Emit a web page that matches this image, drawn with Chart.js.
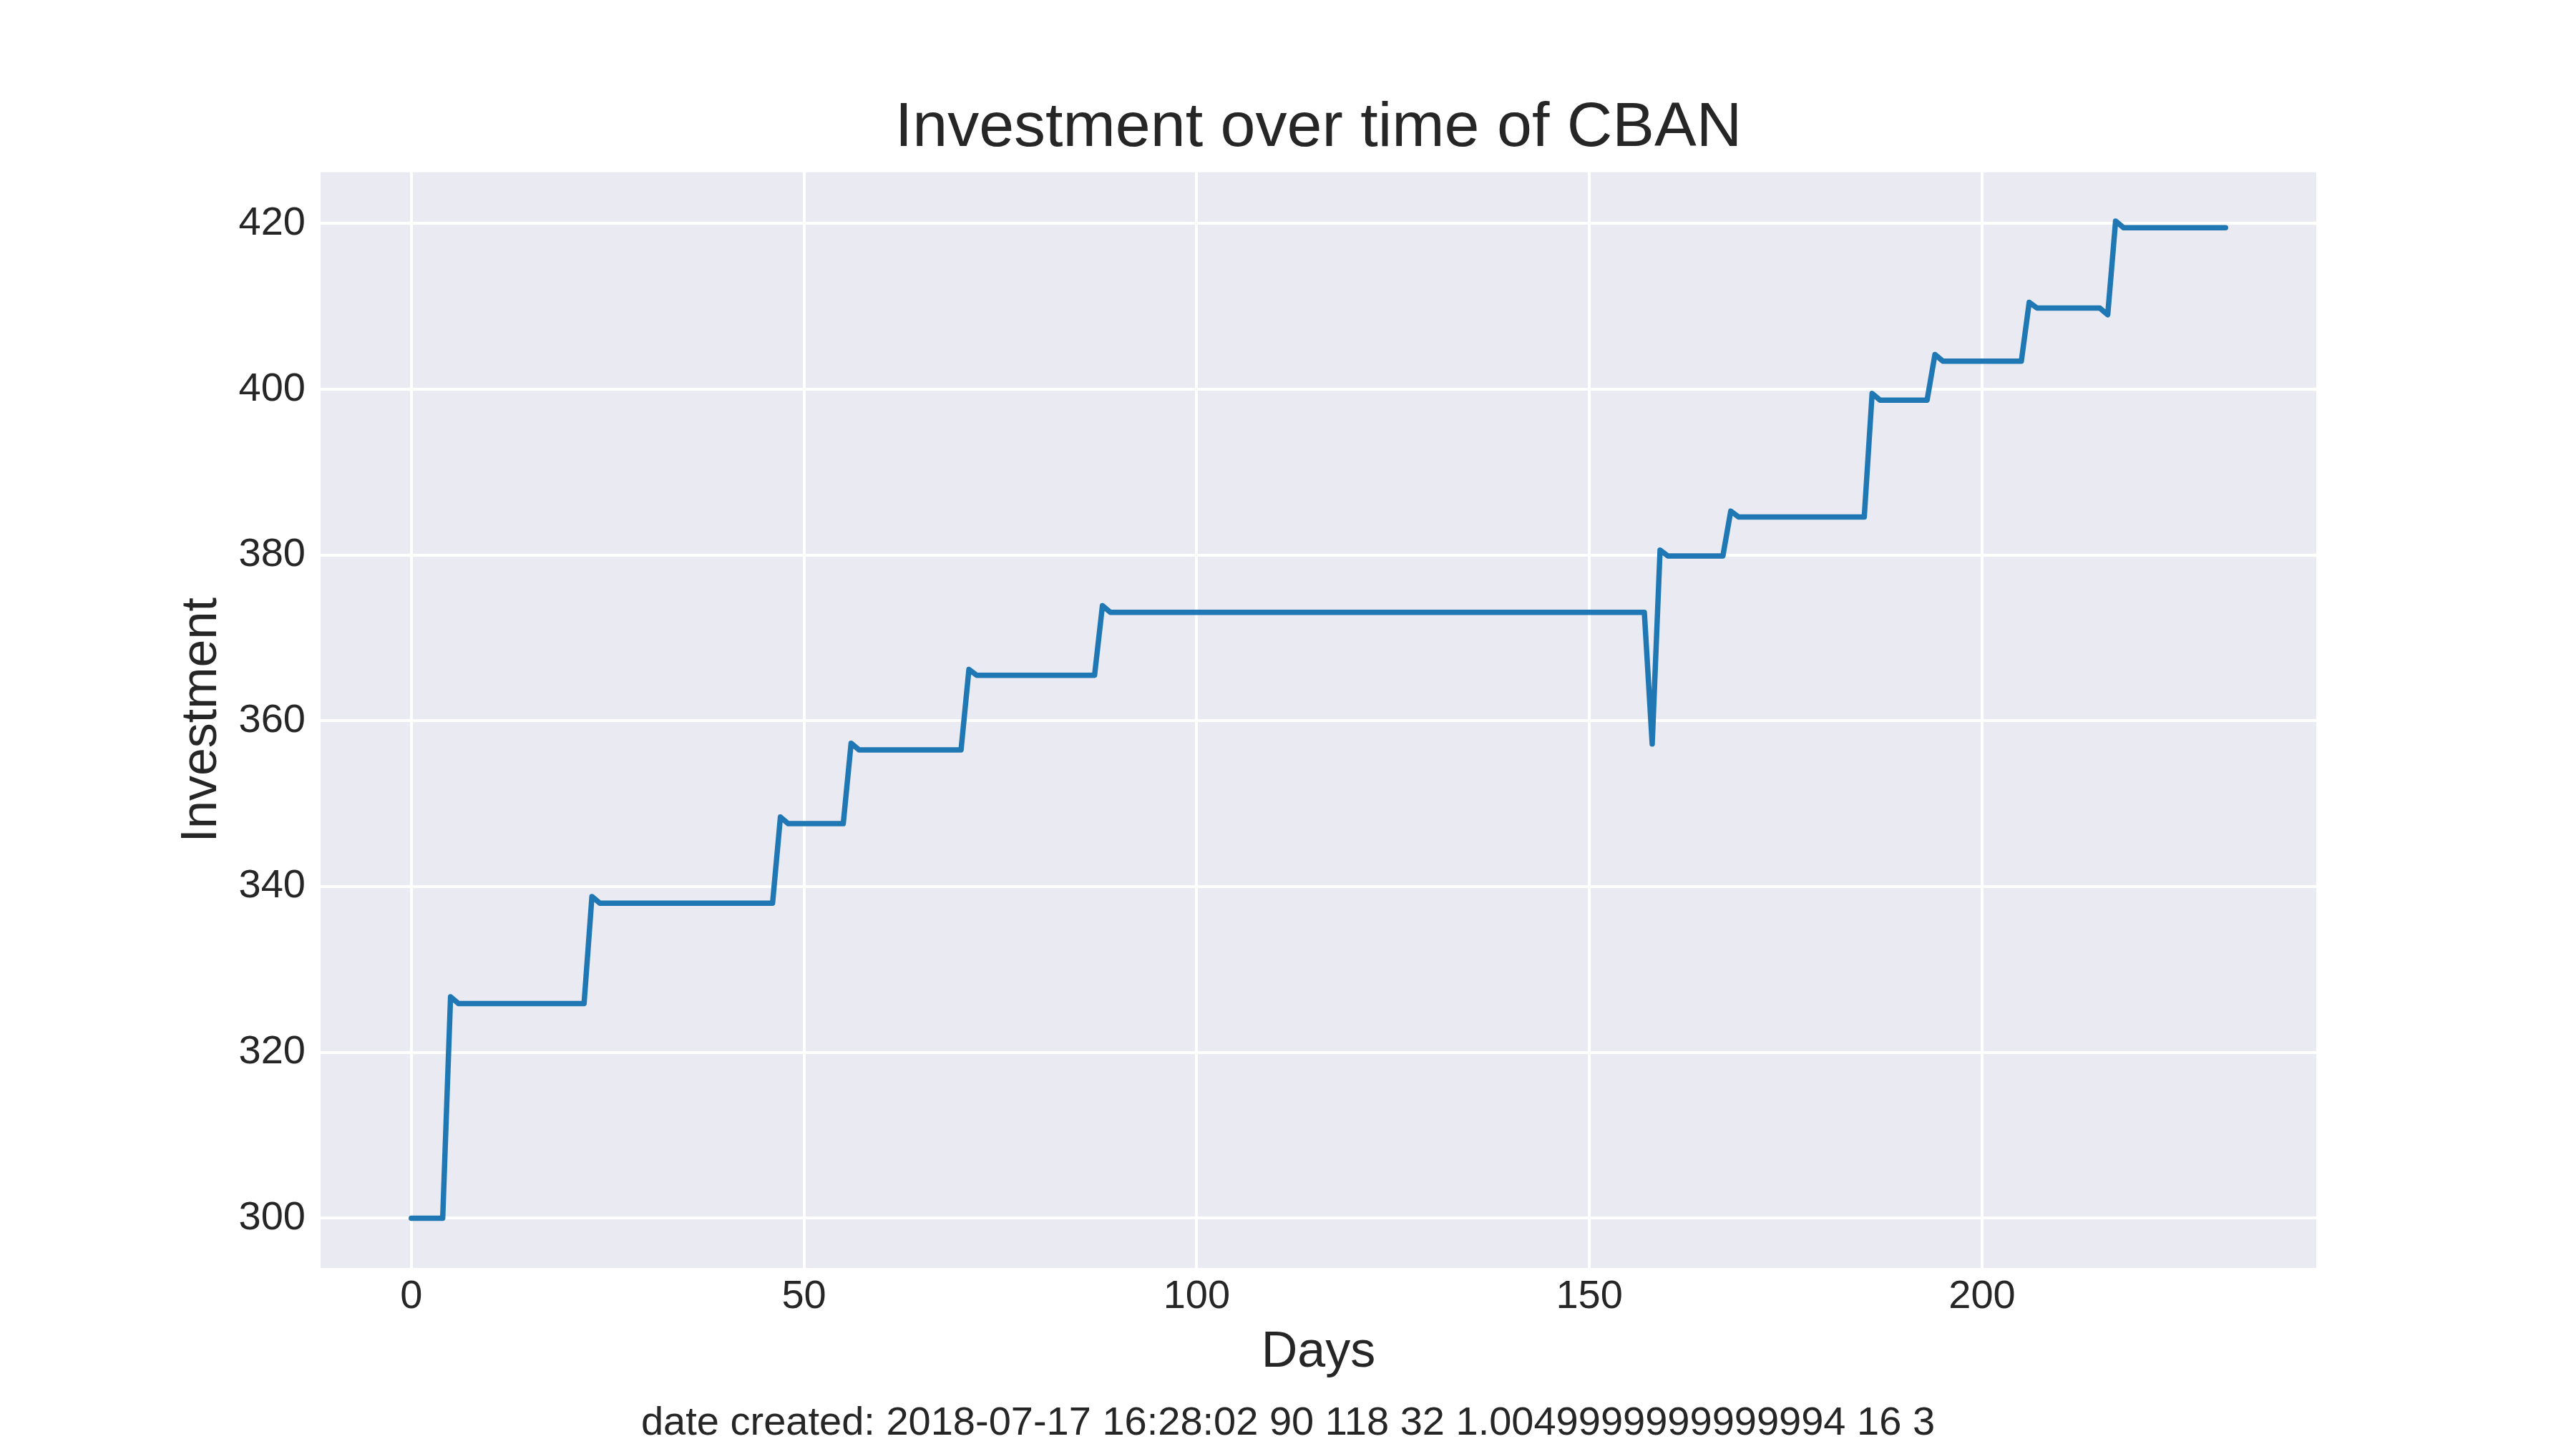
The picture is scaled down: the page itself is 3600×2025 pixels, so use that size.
<!DOCTYPE html>
<html>
<head>
<meta charset="utf-8">
<title>Investment over time of CBAN</title>
<script src="https://cdn.jsdelivr.net/npm/chart.js@4/dist/chart.umd.min.js"></script>
<style>
  html, body { margin: 0; padding: 0; background: #ffffff; }
  #wrap { width: 3600px; height: 2025px; position: relative; }
</style>
</head>
<body>
<div id="wrap"><canvas id="investChart"></canvas></div>
<script>
// days where the curve changes direction (flat stretches are drawn as straight segments)
const days = [0, 4, 5, 6, 22, 23, 24, 46, 47, 48, 55, 56, 57, 70, 71, 72, 87, 88, 89,
    157, 158, 159, 160, 167, 168, 169, 185, 186, 187, 193, 194, 195, 205, 206, 207,
    215, 216, 217, 218, 231];
const investment = [300.0, 300.0, 326.7, 325.9, 325.9, 338.8, 338.0, 338.0, 348.4, 347.6,
    347.6, 357.3, 356.5, 356.5, 366.2, 365.5, 365.5, 373.9, 373.1,
    373.1, 357.2, 380.6, 379.9, 379.9, 385.3, 384.6, 384.6, 399.5, 398.7, 398.7, 404.2, 403.4,
    403.4, 410.5, 409.8, 409.8, 409.0, 420.3, 419.5, 419.5];
const xTicks = [0, 50, 100, 150, 200];
const yTicks = [300, 320, 340, 360, 380, 400, 420];
const footerText = 'date created: 2018-07-17 16:28:02 90 118 32 1.0049999999999994 16 3';

const textColor = '#262626';
const fontFamily = "'Liberation Sans', Arial, sans-serif";

// grey plot background like seaborn darkgrid
const plotBackground = {
    id: 'plotBackground',
    beforeDraw(chart) {
        const a = chart.chartArea;
        const ctx = chart.ctx;
        ctx.save();
        ctx.fillStyle = '#EAEAF2';
        ctx.fillRect(a.left, a.top, a.right - a.left, a.bottom - a.top);
        ctx.restore();
    }
};

// figure-level footer, centred on the whole canvas (not the plot)
const footer = {
    id: 'footer',
    afterDraw(chart) {
        const ctx = chart.ctx;
        ctx.save();
        ctx.fillStyle = textColor;
        ctx.font = '56px ' + fontFamily;
        ctx.textAlign = 'center';
        ctx.textBaseline = 'alphabetic';
        ctx.fillText(footerText, chart.width / 2, 2005);
        ctx.restore();
    }
};

const points = days.map(function (d, i) {
    return { x: d, y: investment[i] };
});

const ctx = document.getElementById('investChart').getContext('2d');
const myChart = new Chart(ctx, {
    type: 'line',
    data: {
        datasets: [{
            label: 'Investment',
            data: points,
            borderColor: '#1f77b4',
            borderWidth: 7.5,
            pointRadius: 0,
            tension: 0,
            borderJoinStyle: 'round',
            borderCapStyle: 'round',
            fill: false,
        }]
    },
    plugins: [plotBackground, footer],
    options: {
        responsive: true,
        maintainAspectRatio: false,
        devicePixelRatio: 1,
        animation: false,
        events: [],
        layout: {
            padding: { left: 200, right: 363, top: 0, bottom: 72 }
        },
        plugins: {
            legend: { display: false },
            tooltip: { enabled: false },
            title: {
                display: true,
                text: 'Investment over time of CBAN',
                fullSize: false,
                color: textColor,
                font: { family: fontFamily, size: 88, weight: 'normal', lineHeight: 1.2 },
                padding: { top: 127, bottom: 8 },
            }
        },
        scales: {
            x: {
                type: 'linear',
                min: -11.55,
                max: 242.55,
                afterFit: function (scale) { scale.height = 181; },
                afterBuildTicks: function (scale) {
                    scale.ticks = xTicks.map(function (v) { return { value: v }; });
                },
                border: { display: false },
                grid: { color: '#ffffff', lineWidth: 4, drawTicks: false },
                ticks: {
                    color: textColor,
                    font: { family: fontFamily, size: 56, lineHeight: 1.2 },
                    padding: 7,
                    maxRotation: 0,
                    autoSkip: false,
                },
                title: {
                    display: true,
                    text: 'Days',
                    color: textColor,
                    font: { family: fontFamily, size: 70, lineHeight: 1.2 },
                    padding: { top: 0, bottom: 20 },
                }
            },
            y: {
                type: 'linear',
                min: 293.99,
                max: 426.2,
                afterFit: function (scale) { scale.width = 248; },
                afterBuildTicks: function (scale) {
                    scale.ticks = yTicks.map(function (v) { return { value: v }; });
                },
                border: { display: false },
                grid: { color: '#ffffff', lineWidth: 4, drawTicks: false },
                ticks: {
                    color: textColor,
                    font: { family: fontFamily, size: 56, lineHeight: 1.2 },
                    padding: 21,
                    autoSkip: false,
                },
                title: {
                    display: true,
                    text: 'Investment',
                    color: textColor,
                    font: { family: fontFamily, size: 70, lineHeight: 1.2 },
                    padding: { top: 41, bottom: 0 },
                }
            }
        }
    }
});
</script>
</body>
</html>
